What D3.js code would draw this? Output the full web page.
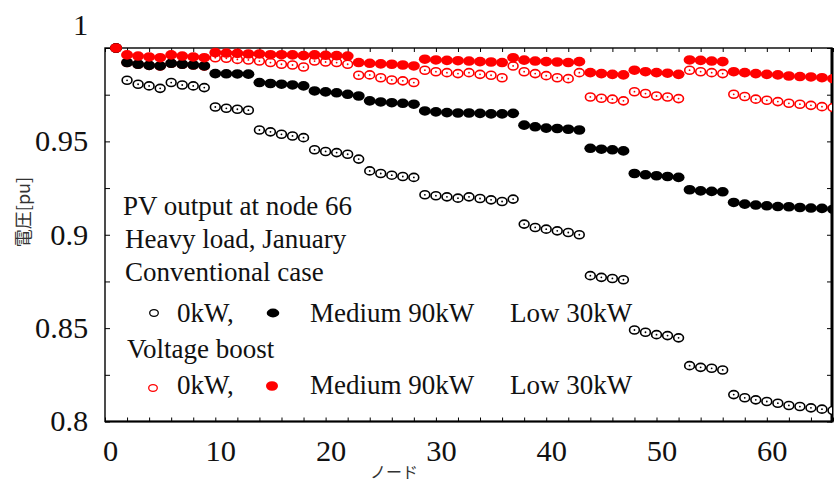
<!DOCTYPE html>
<html><head><meta charset="utf-8">
<script src="https://cdn.jsdelivr.net/npm/d3@7"></script>
<style>
html,body{margin:0;padding:0;background:#fff;}
svg{display:block;}
</style></head>
<body>
<svg id="chart" width="836" height="483"></svg>
<script>
// ---- data ----
const nodes = d3.range(1, 67);
const conv0 = [1.0,0.9827,0.9806,0.9797,0.9784,0.9815,0.9802,0.9797,0.9788,
  0.9684,0.9677,0.9672,0.9667,
  0.9561,0.9551,0.9538,0.9529,0.9520,
  0.9455,0.9446,0.9440,0.9431,0.9405,
  0.9342,0.9328,0.9319,0.9312,0.9307,
  0.9214,0.9209,0.9203,0.9196,0.9203,0.9194,0.9187,0.9178,0.9191,
  0.9057,0.9039,0.9030,0.9021,0.9012,0.9000,
  0.8781,0.8772,0.8766,0.8759,
  0.8490,0.8478,0.8465,0.8460,0.8448,
  0.8299,0.8290,0.8285,0.8276,
  0.8144,0.8127,0.8116,0.8107,0.8098,0.8086,0.8080,0.8073,0.8066,0.8059];
const conv90 = [1.0,0.9922,0.9913,0.9907,0.9904,0.9918,0.9913,0.9909,0.9904,
  0.9863,0.9862,0.9861,0.9860,
  0.9815,0.9810,0.9806,0.9802,0.9797,
  0.9770,0.9765,0.9760,0.9752,0.9743,
  0.9717,0.9711,0.9707,0.9704,0.9699,
  0.9663,0.9658,0.9654,0.9652,0.9652,0.9650,0.9647,0.9647,0.9650,
  0.9587,0.9578,0.9571,0.9569,0.9565,0.9561,
  0.9463,0.9458,0.9455,0.9449,
  0.9328,0.9321,0.9316,0.9312,0.9307,
  0.9241,0.9235,0.9232,0.9230,
  0.9173,0.9164,0.9159,0.9155,0.9151,0.9150,0.9146,0.9143,0.9141,0.9137];
const boost0 = [1.0,0.9922,0.9913,0.9907,0.9904,0.9918,0.9913,0.9909,0.9904,
  0.9948,0.9945,0.9939,0.9936,0.9930,0.9922,0.9913,0.9909,0.9898,
  0.9930,0.9925,0.9922,0.9913,
  0.9854,0.9856,0.9841,0.9829,0.9824,0.9815,
  0.9881,0.9873,0.9868,0.9863,0.9868,0.9859,0.9854,0.9841,
  0.9904,
  0.9873,0.9863,0.9852,0.9841,0.9836,0.9868,
  0.9738,0.9731,0.9726,0.9717,
  0.9766,0.9756,0.9743,0.9738,0.9729,
  0.9881,0.9873,0.9868,0.9863,
  0.9752,0.9740,0.9726,0.9720,0.9713,0.9704,0.9699,0.9693,0.9686,0.9681];
const boost90 = [1.0,0.9963,0.9957,0.9952,0.9948,0.9963,0.9957,0.9952,0.9948,
  0.9975,0.9973,0.9971,0.9968,0.9968,0.9964,0.9964,0.9963,0.9959,0.9963,0.9961,0.9959,0.9957,
  0.9922,0.9918,0.9915,0.9913,0.9909,0.9904,
  0.9940,0.9936,0.9934,0.9932,0.9930,0.9927,0.9925,0.9922,
  0.9948,
  0.9935,0.9930,0.9927,0.9925,0.9922,0.9927,
  0.9868,0.9863,0.9859,0.9856,
  0.9881,0.9873,0.9868,0.9865,0.9859,
  0.9936,0.9934,0.9930,0.9927,
  0.9873,0.9868,0.9863,0.9859,0.9856,0.9850,0.9847,0.9845,0.9841,0.9836];
const xTicks = d3.range(0, 67, 2);
const xTickLabels = [0, 10, 20, 30, 40, 50, 60];
const yTicks = [0.8, 0.825, 0.85, 0.875, 0.9, 0.925, 0.95, 0.975, 1.0];
const yTickLabels = {"0.8":"0.8","0.85":"0.85","0.9":"0.9","0.95":"0.95","1":"1"};
const legendLines = ["PV output at node 66", "Heavy load, January", "Conventional case", "Voltage boost"];
const legendItems = ["0kW,", "Medium 90kW", "Low 30kW"];
const yTitle = "電圧[pu]";
const xTitle = "ノード";

// ---- layout ----
const L = 105, R = 832, T = 48, B = 421.5;
const svg = d3.select("#chart");
const x = d3.scaleLinear().domain([0, 66]).range([L, 833]);
const y = d3.scaleLinear().domain([0.8, 1.0]).range([B, T]);
const serif = "'Liberation Serif','Times New Roman',serif";
const cjk = "'Noto Sans CJK JP','Noto Sans CJK SC',sans-serif";

svg.append("defs").append("clipPath").attr("id","clip")
  .append("rect").attr("x",0).attr("y",0).attr("width",R).attr("height",483);

// axes ticks
const xb = svg.append("g").attr("transform",`translate(0,${B})`)
  .call(d3.axisBottom(x).tickValues(xTicks).tickSize(-4).tickPadding(19)
    .tickFormat(d => xTickLabels.includes(d) ? d : ""));
xb.selectAll("text").attr("font-family",serif).attr("font-size",29).attr("fill","#111")
  .attr("transform","translate(5,0) scale(1.05,1)");
const xt = svg.append("g").attr("transform",`translate(0,${T})`)
  .call(d3.axisTop(x).tickValues(xTicks).tickSize(-4).tickFormat(""));
const yl = svg.append("g").attr("transform",`translate(${L},0)`)
  .call(d3.axisLeft(y).tickValues(yTicks).tickSize(-5).tickPadding(16)
    .tickFormat(d => yTickLabels[String(+d.toFixed(3))] || ""));
yl.selectAll("text").attr("font-family",serif).attr("font-size",29).attr("fill","#111")
  .attr("transform","scale(1.05,1)");
yl.selectAll(".tick").filter(d => d === 1.0).select("text").attr("dy","-0.45em");
const yr = svg.append("g").attr("transform",`translate(${R},0)`)
  .call(d3.axisRight(y).tickValues(yTicks).tickSize(-5).tickFormat(""));
[xb, xt, yl, yr].forEach(g => {
  g.select(".domain").remove();
  g.selectAll("line").attr("stroke","#000").attr("stroke-width",1);
});

// frame
svg.append("rect").attr("x",L).attr("y",T).attr("width",R-L).attr("height",B-T)
  .attr("fill","none").attr("stroke","#000").attr("stroke-width",1.4);
svg.append("line").attr("x1",R).attr("x2",R).attr("y1",T).attr("y2",B+1)
  .attr("stroke","#000").attr("stroke-width",3);
svg.append("line").attr("x1",L).attr("x2",R).attr("y1",B).attr("y2",B)
  .attr("stroke","#000").attr("stroke-width",2.2);

// markers
const plot = svg.append("g").attr("clip-path","url(#clip)");
function openSeries(vals, color){
  const g = plot.append("g");
  g.selectAll("ellipse").data(nodes).join("ellipse")
    .attr("cx", d => x(d)).attr("cy", (d,i) => y(vals[i]))
    .attr("rx",4.9).attr("ry",4.0).attr("fill","#fff")
    .attr("stroke",color).attr("stroke-width",1.6);
  g.selectAll("circle").data(nodes).join("circle")
    .attr("cx", d => x(d)).attr("cy", (d,i) => y(vals[i]))
    .attr("r",0.9).attr("fill",color);
}
function filledSeries(vals, color){
  plot.append("g").selectAll("ellipse").data(nodes).join("ellipse")
    .attr("cx", d => x(d)).attr("cy", (d,i) => y(vals[i]))
    .attr("rx",6).attr("ry",4.8).attr("fill",color);
}
openSeries(boost0, "#ff0000");
openSeries(conv0, "#000");
filledSeries(conv90, "#000");
filledSeries(boost90, "#ff0000");

// legend / annotation text
const txt = (s, tx, ty) => svg.append("text").attr("x",tx).attr("y",ty)
  .attr("font-family",serif).attr("font-size",27).attr("fill","#111").text(s);
txt(legendLines[0], 123, 215);
txt(legendLines[1], 125, 248);
txt(legendLines[2], 125, 281);
txt(legendItems[0], 177, 322);
txt(legendItems[1], 310, 322);
txt(legendItems[2], 510, 322);
txt(legendLines[3], 127, 358);
txt(legendItems[0], 177, 394);
txt(legendItems[1], 310, 394);
txt(legendItems[2], 510, 394);
// legend markers
svg.append("ellipse").attr("cx",154).attr("cy",313).attr("rx",4.3).attr("ry",3.4)
  .attr("fill","#fff").attr("stroke","#000").attr("stroke-width",1.3);
svg.append("ellipse").attr("cx",273).attr("cy",313).attr("rx",6.3).attr("ry",4.4).attr("fill","#000");
svg.append("ellipse").attr("cx",153).attr("cy",388).attr("rx",4.3).attr("ry",3.4)
  .attr("fill","#fff").attr("stroke","#ff0000").attr("stroke-width",1.3);
svg.append("ellipse").attr("cx",272).attr("cy",386).attr("rx",6).attr("ry",4.8).attr("fill","#ff0000");

// axis titles
svg.append("text").attr("transform","translate(22,212) rotate(-90)")
  .attr("text-anchor","middle").attr("dominant-baseline","central")
  .attr("font-family",cjk).attr("font-size",18).attr("fill","#333").text(yTitle);
svg.append("text").attr("x",394).attr("y",478).attr("text-anchor","middle")
  .attr("font-family",cjk).attr("font-size",16).attr("fill","#333").text(xTitle);
</script>
</body></html>
